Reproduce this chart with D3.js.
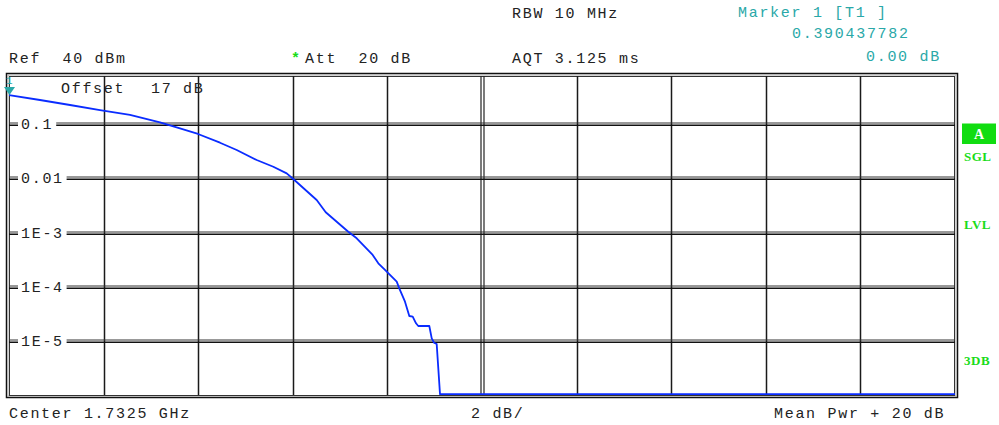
<!DOCTYPE html>
<html>
<head>
<meta charset="utf-8">
<script src="https://cdn.jsdelivr.net/npm/d3@7/dist/d3.min.js"></script>
<style>
  html, body { margin: 0; padding: 0; background: #fff; }
  svg { display: block; }
  .mono { font-family: "Liberation Mono", "DejaVu Sans Mono", monospace; font-size: 15px; letter-spacing: 1.7px; }
</style>
</head>
<body>
<svg id="chart" width="999" height="425"></svg>
<script>
// ---- data ----
const levelDb = [0, 0.655, 1.29, 1.924, 2.558, 3.192, 3.615, 3.996, 4.461, 4.814, 5.237, 5.588, 5.871, 6.01,
  6.505, 6.696, 7.173, 7.351, 7.689, 7.808, 7.949, 8.197, 8.251, 8.372, 8.463, 8.535, 8.605, 8.653,
  8.886, 8.937, 8.985, 9.042, 9.112, 20];
const probability = [0.342, 0.277, 0.224, 0.181, 0.1466, 0.1075, 0.0833, 0.0655, 0.0452, 0.0332, 0.0217, 0.0163, 0.0123, 0.0097,
  0.00397, 0.00236, 0.00103, 0.000782, 0.000385, 0.00027, 0.000204, 0.000124, 0.0000936, 0.000053, 0.0000289, 0.0000281, 0.0000212, 0.0000189,
  0.0000189, 0.0000112, 0.0000093, 0.0000088, 0.00000105, 0.00000105];
const xTicks = [0, 2, 4, 6, 8, 10, 12, 14, 16, 18, 20];
const yTicks = [0.1, 0.01, 1e-3, 1e-4, 1e-5];
const yTickLabels = ["0.1", "0.01", "1E-3", "1E-4", "1E-5"];
const markerDb = 0;
const markerProb = 0.342;

// ---- layout ----
const svg = d3.select("#chart");
const L = 9, R = 955, T = 76, B = 395;
const x = d3.scaleLinear().domain([0, 20]).range([L, R]);
const y = d3.scaleLog().domain([1e-6, 1]).range([395.25, 69.75]);

const txt = "#222";
const teal = "#2aa8a8";
const green = "#19dc19";

function t(xp, yp, s, col) {
  return svg.append("text").attr("class", "mono").attr("x", xp).attr("y", yp)
    .attr("fill", col || txt).style("white-space", "pre").text(s);
}
t(512, 18, "RBW 10 MHz");
t(738, 17, "Marker 1 [T1 ]", teal);
t(792, 38, "0.390437782", teal);
t(9, 63, "Ref  40 dBm");
t(291, 63, "*", green).style("font-weight", "bold");
t(305, 63, "Att  20 dB");
t(512, 63, "AQT 3.125 ms");
t(866, 61, "0.00 dB", teal);

// frame
svg.append("rect").attr("x", 6.5).attr("y", 73.5).attr("width", 951).attr("height", 324)
  .attr("fill", "none").attr("stroke", "#111").attr("stroke-width", 1.5);
svg.append("rect").attr("x", 8).attr("y", 75).attr("width", 948).attr("height", 321)
  .attr("fill", "none").attr("stroke", "#aaa").attr("stroke-width", 1);
svg.append("rect").attr("x", 9.5).attr("y", 76.5).attr("width", R - L - 1).attr("height", B - T)
  .attr("fill", "#fff").attr("stroke", "#333").attr("stroke-width", 1);

const plot = svg.append("g");
svg.append("clipPath").attr("id", "clip").append("rect").attr("x", L).attr("y", T).attr("width", R - L).attr("height", B - T);

// vertical grid
xTicks.slice(1, -1).forEach(v => {
  const xp = Math.round(x(v)) + 0.5;
  if (v === 10) {
    plot.append("line").attr("x1", xp - 1.5).attr("x2", xp - 1.5).attr("y1", T).attr("y2", B).attr("stroke", "#222").attr("stroke-width", 1.2);
    plot.append("line").attr("x1", xp + 1.5).attr("x2", xp + 1.5).attr("y1", T).attr("y2", B).attr("stroke", "#222").attr("stroke-width", 1.2);
  } else {
    plot.append("line").attr("x1", xp).attr("x2", xp).attr("y1", T).attr("y2", B).attr("stroke", "#1a1a1a").attr("stroke-width", 1.5);
  }
});

// horizontal grid (double lines)
yTicks.forEach(v => {
  const yp = Math.round(y(v));
  plot.append("line").attr("x1", L).attr("x2", R).attr("y1", yp - 1).attr("y2", yp - 1).attr("stroke", "#333").attr("stroke-width", 1);
  plot.append("line").attr("x1", L).attr("x2", R).attr("y1", yp + 1.2).attr("y2", yp + 1.2).attr("stroke", "#111").attr("stroke-width", 1.5);
});

// y tick labels with white background
yTicks.forEach((v, i) => {
  const yp = y(v);
  const lab = yTickLabels[i];
  const w = lab.length * 10.4;
  plot.append("rect").attr("x", 18).attr("y", yp - 8).attr("width", w + 7).attr("height", 16).attr("fill", "#fff");
  plot.append("text").attr("class", "mono").attr("x", 21).attr("y", yp + 5).attr("fill", txt).text(lab);
});

// offset label
plot.append("text").attr("class", "mono").attr("x", 61).attr("y", 93).attr("fill", txt).text("Offset");
plot.append("text").attr("class", "mono").attr("x", 151).attr("y", 93).attr("fill", txt)
  .style("white-space", "pre").text("17 dB");

// trace
const line = d3.line().x(d => x(d[0])).y(d => y(d[1]));
plot.append("path")
  .datum(levelDb.map((d, i) => [d, probability[i]]))
  .attr("clip-path", "url(#clip)")
  .attr("d", line)
  .attr("fill", "none")
  .attr("stroke", "#0a2cff")
  .attr("stroke-width", 1.8)
  .attr("stroke-linejoin", "round");

// marker
const mx = x(markerDb), my = y(markerProb);
svg.append("path")
  .attr("d", `M${mx - 5},${my - 8} L${mx + 6},${my - 8} L${mx + 0.5},${my} Z`)
  .attr("fill", teal);
svg.append("text").attr("x", mx - 3).attr("y", my - 11).attr("fill", teal)
  .style("font-family", "Liberation Mono, monospace").style("font-size", "11px").text("1");

// right side status labels
svg.append("rect").attr("x", 962).attr("y", 123.5).attr("width", 34).attr("height", 20.5).attr("fill", "#11dd11");
svg.append("text").attr("x", 979).attr("y", 139).attr("text-anchor", "middle").attr("fill", "#fff")
  .style("font-family", "Liberation Serif, serif").style("font-weight", "bold").style("font-size", "14px").text("A");
[["SGL", 161], ["LVL", 229], ["3DB", 365]].forEach(([s, yp]) => {
  svg.append("text").attr("x", 964).attr("y", yp).attr("fill", green)
    .style("font-family", "Liberation Serif, serif").style("font-weight", "bold").style("font-size", "13px")
    .style("letter-spacing", "0.5px").text(s);
});

// bottom texts
t(9, 418, "Center 1.7325 GHz");
t(471, 418, "2 dB/");
t(774, 418, "Mean Pwr + 20 dB");
</script>
</body>
</html>
